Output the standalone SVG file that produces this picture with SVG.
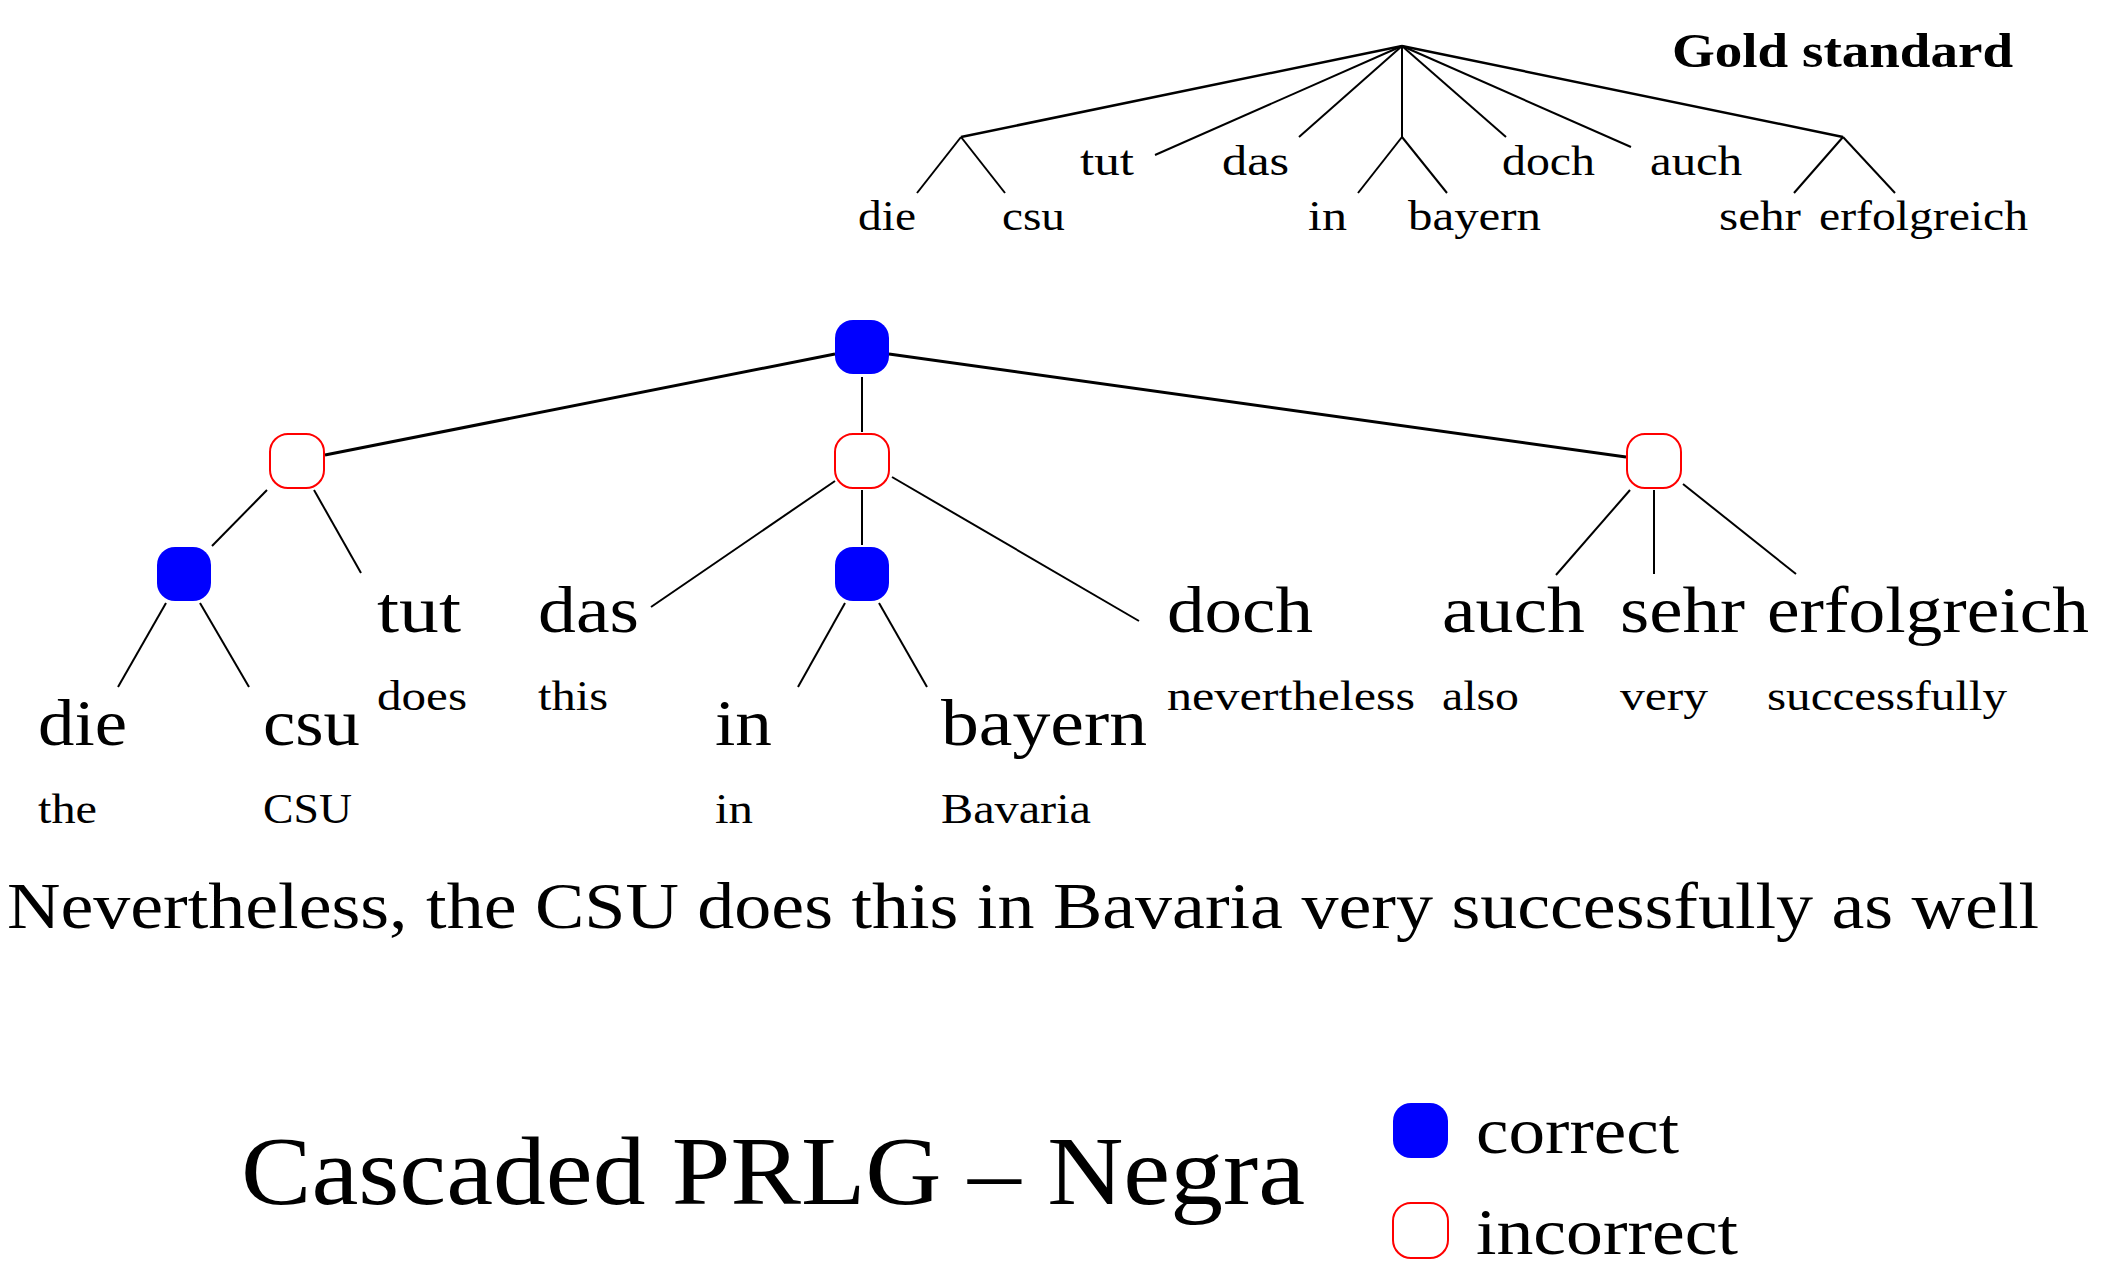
<svg xmlns="http://www.w3.org/2000/svg" width="2110" height="1282" viewBox="0 0 2110 1282">
<style>
text{font-family:"Liberation Serif","DejaVu Serif",serif;fill:#000}
.w{font-size:65px}
.g{font-size:43px}
.s{font-size:65px}
.t{font-size:98px}
.gs{font-size:49px;font-weight:bold}
.ok{fill:#0000ff;stroke:none}
.bad{fill:#fff;stroke:#ff0000;stroke-width:2}
.e{stroke:#000;stroke-width:2;fill:none;stroke-linecap:butt}
.e3{stroke:#000;stroke-width:3;fill:none}
</style>
<rect width="2110" height="1282" fill="#fff"/>
<g id="gold">
<text class="gs" x="1672" y="67" textLength="341" lengthAdjust="spacingAndGlyphs">Gold standard</text>
<g class="e">
<line x1="1402" y1="46" x2="961" y2="137" style="stroke-width:2.5"/>
<line x1="1402" y1="46" x2="1155" y2="155"/>
<line x1="1402" y1="46" x2="1299" y2="137"/>
<line x1="1402" y1="46" x2="1402" y2="137"/>
<line x1="1402" y1="46" x2="1506" y2="137"/>
<line x1="1402" y1="46" x2="1631" y2="147"/>
<line x1="1402" y1="46" x2="1843" y2="137" style="stroke-width:2.5"/>
<line x1="961" y1="137" x2="917" y2="193"/>
<line x1="961" y1="137" x2="1005" y2="193"/>
<line x1="1402" y1="137" x2="1358" y2="193"/>
<line x1="1402" y1="137" x2="1447" y2="193"/>
<line x1="1843" y1="137" x2="1794" y2="193"/>
<line x1="1843" y1="137" x2="1895" y2="193"/>
</g>
<text class="g" x="1080" y="175" textLength="54" lengthAdjust="spacingAndGlyphs">tut</text>
<text class="g" x="1222" y="175" textLength="67" lengthAdjust="spacingAndGlyphs">das</text>
<text class="g" x="1502" y="175" textLength="93" lengthAdjust="spacingAndGlyphs">doch</text>
<text class="g" x="1650" y="175" textLength="92" lengthAdjust="spacingAndGlyphs">auch</text>
<text class="g" x="858" y="230" textLength="58" lengthAdjust="spacingAndGlyphs">die</text>
<text class="g" x="1002" y="230" textLength="63" lengthAdjust="spacingAndGlyphs">csu</text>
<text class="g" x="1308" y="230" textLength="39" lengthAdjust="spacingAndGlyphs">in</text>
<text class="g" x="1408" y="230" textLength="133" lengthAdjust="spacingAndGlyphs">bayern</text>
<text class="g" x="1719" y="230" textLength="82" lengthAdjust="spacingAndGlyphs">sehr</text>
<text class="g" x="1819" y="230" textLength="209" lengthAdjust="spacingAndGlyphs">erfolgreich</text>
</g>
<g id="connectors">
<line class="e3" x1="835" y1="354" x2="325" y2="455"/>
<line class="e" x1="862" y1="377" x2="862" y2="432"/>
<line class="e3" x1="889" y1="354" x2="1626" y2="457"/>
<line class="e" x1="267" y1="490" x2="212" y2="546"/>
<line class="e" x1="314" y1="490" x2="361" y2="573"/>
<line class="e" x1="166" y1="603" x2="118" y2="687"/>
<line class="e" x1="200" y1="603" x2="249" y2="687"/>
<line class="e" x1="835" y1="481" x2="651" y2="607"/>
<line class="e" x1="862" y1="490" x2="862" y2="545"/>
<line class="e" x1="892" y1="477" x2="1139" y2="621"/>
<line class="e" x1="845" y1="603" x2="798" y2="687"/>
<line class="e" x1="879" y1="603" x2="927" y2="687"/>
<line class="e" x1="1630" y1="490" x2="1556" y2="575"/>
<line class="e" x1="1654" y1="490" x2="1654" y2="574"/>
<line class="e" x1="1683" y1="484" x2="1796" y2="574"/>
</g>
<g id="n-root"><rect class="ok" x="835" y="320" width="54" height="54" rx="18"/></g>
<g id="n-left"><rect class="bad" x="270" y="434" width="54" height="54" rx="18"/></g>
<g id="n-mid"><rect class="bad" x="835" y="434" width="54" height="54" rx="18"/></g>
<g id="n-right"><rect class="bad" x="1627" y="434" width="54" height="54" rx="18"/></g>
<g id="n-diecsu"><rect class="ok" x="157" y="547" width="54" height="54" rx="18"/></g>
<g id="n-inbayern"><rect class="ok" x="835" y="547" width="54" height="54" rx="18"/></g>
<g id="words">
<text class="w" x="38" y="745" textLength="89" lengthAdjust="spacingAndGlyphs">die</text>
<text class="w" x="263" y="745" textLength="97" lengthAdjust="spacingAndGlyphs">csu</text>
<text class="w" x="377" y="632" textLength="84" lengthAdjust="spacingAndGlyphs">tut</text>
<text class="w" x="538" y="632" textLength="101" lengthAdjust="spacingAndGlyphs">das</text>
<text class="w" x="715" y="745" textLength="57" lengthAdjust="spacingAndGlyphs">in</text>
<text class="w" x="941" y="745" textLength="206" lengthAdjust="spacingAndGlyphs">bayern</text>
<text class="w" x="1167" y="632" textLength="146" lengthAdjust="spacingAndGlyphs">doch</text>
<text class="w" x="1442" y="632" textLength="143" lengthAdjust="spacingAndGlyphs">auch</text>
<text class="w" x="1620" y="632" textLength="125" lengthAdjust="spacingAndGlyphs">sehr</text>
<text class="w" x="1767" y="632" textLength="322" lengthAdjust="spacingAndGlyphs">erfolgreich</text>
<text class="g" x="38" y="823" textLength="59" lengthAdjust="spacingAndGlyphs">the</text>
<text class="g" x="263" y="823" textLength="89" lengthAdjust="spacingAndGlyphs">CSU</text>
<text class="g" x="377" y="710" textLength="90" lengthAdjust="spacingAndGlyphs">does</text>
<text class="g" x="538" y="710" textLength="70" lengthAdjust="spacingAndGlyphs">this</text>
<text class="g" x="715" y="823" textLength="38" lengthAdjust="spacingAndGlyphs">in</text>
<text class="g" x="941" y="823" textLength="150" lengthAdjust="spacingAndGlyphs">Bavaria</text>
<text class="g" x="1167" y="710" textLength="248" lengthAdjust="spacingAndGlyphs">nevertheless</text>
<text class="g" x="1442" y="710" textLength="77" lengthAdjust="spacingAndGlyphs">also</text>
<text class="g" x="1620" y="710" textLength="88" lengthAdjust="spacingAndGlyphs">very</text>
<text class="g" x="1767" y="710" textLength="240" lengthAdjust="spacingAndGlyphs">successfully</text>
</g>
<text class="s" x="7" y="928" textLength="2032" lengthAdjust="spacingAndGlyphs">Nevertheless, the CSU does this in Bavaria very successfully as well</text>
<text class="t" x="241" y="1204" textLength="1064" lengthAdjust="spacingAndGlyphs">Cascaded PRLG – Negra</text>
<g id="legend">
<rect class="ok" x="1393" y="1103" width="55" height="55" rx="18"/>
<text class="w" x="1476" y="1153" textLength="203" lengthAdjust="spacingAndGlyphs">correct</text>
<rect class="bad" x="1393" y="1203" width="55" height="55" rx="18"/>
<text class="w" x="1476" y="1254" textLength="262" lengthAdjust="spacingAndGlyphs">incorrect</text>
</g>
</svg>
